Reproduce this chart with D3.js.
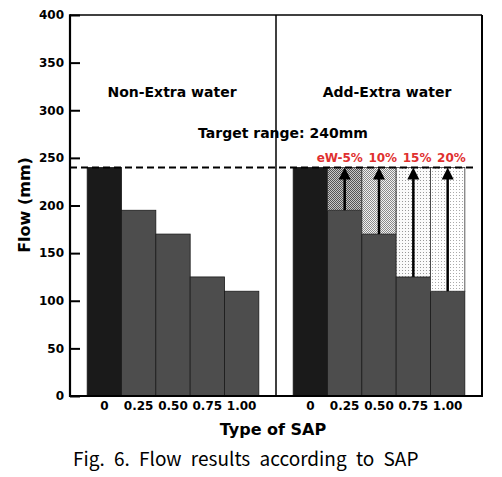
<!DOCTYPE html>
<html><head><meta charset="utf-8">
<script src="https://cdn.jsdelivr.net/npm/d3@7"></script>
<style>
body{margin:0;background:#fff;}
text{font-family:"DejaVu Sans",sans-serif;font-weight:bold;}
</style></head>
<body><svg id="c" width="502" height="477"></svg>
<script>
// ---- data ----
const categories = ["0", "0.25", "0.50", "0.75", "1.00"];
const nonExtraFlow = [240, 195, 170, 125, 110];
const addExtraFlow = [240, 195, 170, 125, 110];
const targetFlow = 240;
const extraWaterLabels = ["eW-5%", "10%", "15%", "20%"];
const yTicks = [0, 50, 100, 150, 200, 250, 300, 350, 400];
const groupTitles = ["Non-Extra water", "Add-Extra water"];

const svg = d3.select("#c");
const L = 70, R = 482, T = 15, B = 396;
const x = d3.scaleLinear().domain([0, 12]).range([L, R]);
const y = d3.scaleLinear().domain([0, 400]).range([B, T]);

// patterns
const defs = svg.append("defs");
function checker(id, bg, fg, size, dot) {
  const p = defs.append("pattern").attr("id", id).attr("patternUnits", "userSpaceOnUse")
    .attr("width", size).attr("height", size);
  p.append("rect").attr("width", size).attr("height", size).attr("fill", bg);
  p.append("rect").attr("width", dot).attr("height", dot).attr("fill", fg);
  if (size === 2) p.append("rect").attr("x", 1).attr("y", 1).attr("width", 1).attr("height", 1).attr("fill", fg);
}
checker("p1", "#c8c8c8", "#555", 2, 1);
checker("p2", "#f2f2f2", "#8a8a8a", 2, 1);
checker("p3", "#fafafa", "#999", 3, 1);
checker("p4", "#ffffff", "#aaa", 3, 1);
const patIds = ["p1", "p2", "p3", "p4"];

const groups = [
  {offset: 0.5, values: nonExtraFlow},
  {offset: 6.5, values: addExtraFlow}
];

groups.forEach((g, gi) => {
  // bars
  svg.append("g").selectAll("rect").data(g.values).join("rect")
    .attr("x", (d, i) => x(g.offset + i))
    .attr("y", d => y(d))
    .attr("width", x(1) - x(0))
    .attr("height", d => y(0) - y(d))
    .attr("fill", (d, i) => i === 0 ? "#1a1a1a" : "#4d4d4d")
    .attr("stroke", "#1a1a1a").attr("stroke-width", 0.8);
  // x labels
  svg.append("g").selectAll("text").data(categories).join("text")
    .attr("x", (d, i) => x(g.offset + i + 0.5))
    .attr("y", 410)
    .attr("text-anchor", "middle")
    .attr("font-size", 12)
    .text(d => d);
});

// extra-water shaded areas & arrows (right group)
const extra = addExtraFlow.slice(1).map((v, k) => ({v, i: k + 1, k}));
svg.append("g").selectAll("rect").data(extra).join("rect")
  .attr("x", d => x(6.5 + d.i))
  .attr("y", y(targetFlow))
  .attr("width", x(1) - x(0))
  .attr("height", d => y(d.v) - y(targetFlow))
  .attr("fill", d => `url(#${patIds[d.k]})`)
  .attr("stroke", "#333").attr("stroke-width", 0.8);

const arrows = svg.append("g");
extra.forEach(d => {
  const cx = x(6.5 + d.i + 0.5);
  arrows.append("line").attr("x1", cx).attr("x2", cx)
    .attr("y1", y(d.v)).attr("y2", y(targetFlow) + 10)
    .attr("stroke", "#000").attr("stroke-width", 2.5);
  arrows.append("path")
    .attr("d", `M${cx},${y(targetFlow)} L${cx - 6},${y(targetFlow) + 12} L${cx + 6},${y(targetFlow) + 12} Z`)
    .attr("fill", "#000");
});

// labels for extra water
svg.append("g").selectAll("text").data(extra).join("text")
  .attr("x", d => x(6.5 + d.i + 1) + 1)
  .attr("y", 162)
  .attr("text-anchor", "end")
  .attr("font-size", 12)
  .attr("fill", "#e0302f")
  .text((d, k) => extraWaterLabels[k]);

// target dashed line
svg.append("line").attr("x1", L).attr("x2", 477)
  .attr("y1", y(targetFlow)).attr("y2", y(targetFlow))
  .attr("stroke", "#000").attr("stroke-width", 2).attr("stroke-dasharray", "7,4");

// frame
svg.append("line").attr("x1", L).attr("x2", R).attr("y1", T).attr("y2", T).attr("stroke", "#000").attr("stroke-width", 1.5);
svg.append("line").attr("x1", R).attr("x2", R).attr("y1", T).attr("y2", B).attr("stroke", "#000").attr("stroke-width", 2);
svg.append("line").attr("x1", x(6)).attr("x2", x(6)).attr("y1", T).attr("y2", B).attr("stroke", "#000").attr("stroke-width", 1.5);

// y axis (ticks inward)
const yAxis = d3.axisRight(y).tickValues(yTicks).tickSize(10).tickFormat("");
const ya = svg.append("g").attr("transform", `translate(${L},0)`).call(yAxis);
ya.select(".domain").remove();
ya.selectAll("line").attr("stroke-width", 2);
svg.append("g").selectAll("text").data(yTicks).join("text")
  .attr("x", 64).attr("y", d => y(d)).attr("dy", "0.36em")
  .attr("text-anchor", "end").attr("font-size", 12).text(d => d);
svg.append("line").attr("x1", L).attr("x2", L).attr("y1", T - 0.75).attr("y2", B + 1).attr("stroke", "#000").attr("stroke-width", 2.2);
svg.append("line").attr("x1", L).attr("x2", R + 1).attr("y1", B).attr("y2", B).attr("stroke", "#000").attr("stroke-width", 2);

// titles
svg.append("text").attr("x", 172).attr("y", 97).attr("text-anchor", "middle").attr("font-size", 14).text(groupTitles[0]);
svg.append("text").attr("x", 387).attr("y", 97).attr("text-anchor", "middle").attr("font-size", 14).text(groupTitles[1]);
svg.append("text").attr("x", 283).attr("y", 138).attr("text-anchor", "middle").attr("font-size", 14).text("Target range: 240mm");

// axis titles
svg.append("text").attr("transform", "translate(30,205) rotate(-90)").attr("text-anchor", "middle").attr("font-size", 16).text("Flow (mm)");
svg.append("text").attr("x", 273).attr("y", 435).attr("text-anchor", "middle").attr("font-size", 16).text("Type of SAP");

// caption
svg.append("text").attr("x", 73).attr("y", 466)
  .style("font-family", "'Noto Sans CJK KR','Noto Sans',sans-serif").style("font-weight", "normal")
  .attr("font-size", 19).attr("word-spacing", 5)
  .text("Fig. 6. Flow results according to SAP");
</script></body></html>
